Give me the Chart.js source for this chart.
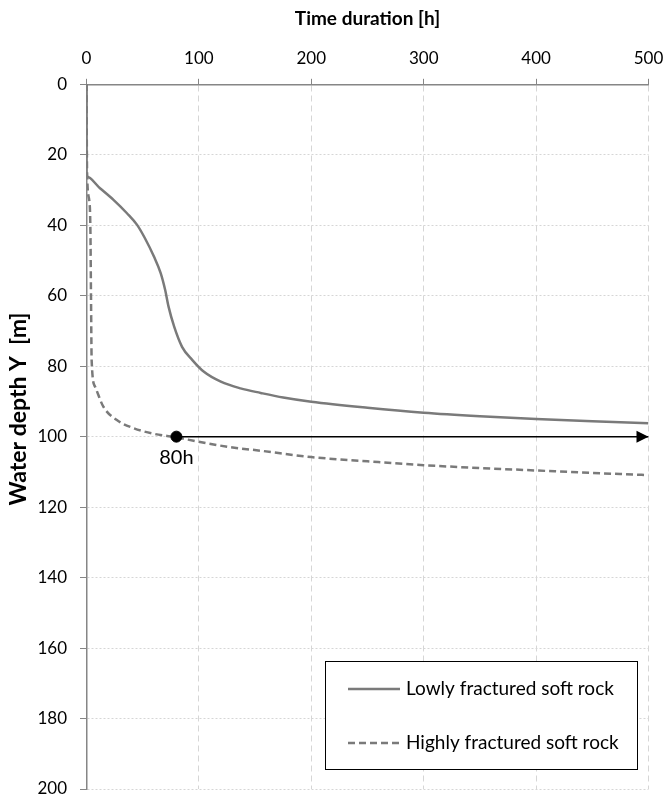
<!DOCTYPE html>
<html>
<head>
<meta charset="utf-8">
<title>Water depth over time</title>
<script src="https://cdn.jsdelivr.net/npm/chart.js@4.4.0/dist/chart.umd.min.js"></script>
<style>
  html, body { margin: 0; padding: 0; background: #fff; }
</style>
</head>
<body>
<canvas id="depthChart" width="665" height="798"></canvas>
<script>
// Lowly fractured soft rock: time [h] and water depth [m]
const lowlyTime  = [0, 0, 12, 24, 36, 45, 52, 60, 66, 70, 73, 78, 85, 94, 104.5, 119.5, 137, 155, 175, 200, 250, 300, 350, 400, 450, 500];
const lowlyDepth = [0, 26.2, 29.5, 32.8, 36.6, 39.9, 43.7, 48.9, 53.6, 58.4, 63.1, 68.8, 74.5, 78.2, 81.6, 84.4, 86.3, 87.6, 88.9, 90.1, 91.8, 93.2, 94.2, 95.0, 95.6, 96.2];

// Highly fractured soft rock
const highlyTime  = [0, 0.5, 2.5, 3.5, 4, 4.6, 7.6, 15, 27, 42, 60, 80, 99, 128, 155, 200, 250, 300, 350, 400, 450, 500];
const highlyDepth = [0, 25, 33, 42, 60, 78.5, 85.8, 91.5, 95.3, 97.6, 99.2, 100.2, 101.4, 103.0, 104.0, 105.8, 107.0, 108.1, 108.9, 109.6, 110.3, 110.9];

// marked point and the arrow running from it to the end of the time axis
const markTime = 80;
const markDepth = 100;
const markLabel = "80h";
const arrowEnd = 500;

const seriesLabels = ["Lowly fractured soft rock", "Highly fractured soft rock"];
const xTitle = "Time duration [h]";
const yTitle = "Water depth Y  [m]";

const toPoints = (xs, ys) => xs.map((v, i) => ({ x: v, y: ys[i] }));

const GREY = "#7a7a7a";
const AXIS = "#868686";
const GRID = "#d6d6d6";
const FONT = "Lato";

const overlayPlugin = {
    id: "overlay",
    afterDatasetsDraw(chart) {
        const { ctx, scales: { x, y } } = chart;
        const tipX = x.getPixelForValue(arrowEnd);
        const tipY = y.getPixelForValue(markDepth);

        ctx.save();
        ctx.fillStyle = "#000";
        ctx.beginPath();
        ctx.moveTo(tipX, tipY);
        ctx.lineTo(tipX - 12, tipY - 6);
        ctx.lineTo(tipX - 12, tipY + 6);
        ctx.closePath();
        ctx.fill();

        ctx.font = "20px " + FONT;
        ctx.textAlign = "center";
        ctx.textBaseline = "middle";
        ctx.fillText(markLabel, x.getPixelForValue(markTime), tipY + 21);
        ctx.restore();
    },
    afterDraw(chart) {
        const { ctx } = chart;

        // vertical axis title
        ctx.save();
        ctx.translate(19, 409);
        ctx.rotate(-Math.PI / 2);
        ctx.font = "bold 23px " + FONT;
        ctx.fillStyle = "#000";
        ctx.textAlign = "center";
        ctx.textBaseline = "middle";
        ctx.fillText(yTitle, 0, 0);
        ctx.restore();

        // legend box
        const box = { left: 325.5, top: 661.5, width: 312, height: 108 };
        ctx.save();
        ctx.fillStyle = "#fff";
        ctx.fillRect(box.left, box.top, box.width, box.height);
        ctx.strokeStyle = "#000";
        ctx.lineWidth = 1;
        ctx.strokeRect(box.left, box.top, box.width, box.height);

        const rows = [689, 743];
        [0, 1].forEach(i => {
            const ds = chart.data.datasets[i];
            ctx.strokeStyle = ds.borderColor;
            ctx.lineWidth = ds.borderWidth;
            ctx.setLineDash(ds.borderDash || []);
            ctx.beginPath();
            ctx.moveTo(348, rows[i]);
            ctx.lineTo(400, rows[i]);
            ctx.stroke();
            ctx.setLineDash([]);
            ctx.fillStyle = "#000";
            ctx.font = "19px " + FONT;
            ctx.textAlign = "left";
            ctx.textBaseline = "middle";
            ctx.fillText(ds.label, 406, rows[i]);
        });
        ctx.restore();
    }
};

new Chart(document.getElementById("depthChart"), {
    type: "line",
    data: {
        datasets: [
            {
                label: seriesLabels[0],
                data: toPoints(lowlyTime, lowlyDepth),
                borderColor: GREY,
                borderWidth: 2.5,
                pointRadius: 0,
                cubicInterpolationMode: "monotone",
                order: 2
            },
            {
                label: seriesLabels[1],
                data: toPoints(highlyTime, highlyDepth),
                borderColor: GREY,
                borderWidth: 2.5,
                borderDash: [7, 4],
                pointRadius: 0,
                cubicInterpolationMode: "monotone",
                order: 3
            },
            {
                label: "arrow",
                data: toPoints([markTime, arrowEnd], [markDepth, markDepth]),
                borderColor: "#000",
                borderWidth: 1.5,
                pointRadius: 0,
                order: 1
            },
            {
                label: "mark",
                data: toPoints([markTime], [markDepth]),
                showLine: false,
                pointRadius: 5.5,
                pointBackgroundColor: "#000",
                pointBorderColor: "#000",
                order: 0
            }
        ]
    },
    options: {
        responsive: false,
        animation: false,
        devicePixelRatio: 1,
        layout: { padding: { left: 0, top: 0, right: 16.5, bottom: 9 } },
        plugins: {
            legend: { display: false },
            tooltip: { enabled: false }
        },
        scales: {
            x: {
                type: "linear",
                position: "top",
                min: 0,
                max: 500,
                afterFit: s => {
                    s.height = 84.3;
                    s.paddingLeft = 0;
                    s.paddingRight = 0;
                },
                ticks: {
                    stepSize: 100,
                    padding: 10,
                    color: "#000",
                    font: { family: FONT, size: 17 }
                },
                title: {
                    display: true,
                    text: xTitle,
                    color: "#000",
                    padding: { top: 7, bottom: 0 },
                    font: { family: FONT, size: 19, weight: "bold" }
                },
                grid: {
                    color: GRID,
                    lineWidth: 1,
                    tickLength: 5.5,
                    tickColor: AXIS,
                    tickWidth: 1
                },
                border: { color: AXIS, width: 1.5, dash: [6, 4] }
            },
            y: {
                type: "linear",
                reverse: true,
                min: 0,
                max: 200,
                afterFit: s => {
                    s.width = 86.5;
                    s.paddingTop = 0;
                    s.paddingBottom = 0;
                },
                ticks: {
                    stepSize: 20,
                    padding: 13,
                    color: "#000",
                    font: { family: FONT, size: 17 }
                },
                grid: {
                    color: GRID,
                    lineWidth: 1,
                    tickLength: 6.5,
                    tickColor: AXIS,
                    tickWidth: 1
                },
                border: { color: AXIS, width: 1.5, dash: [2, 2] }
            }
        }
    },
    plugins: [overlayPlugin]
});
</script>
</body>
</html>
